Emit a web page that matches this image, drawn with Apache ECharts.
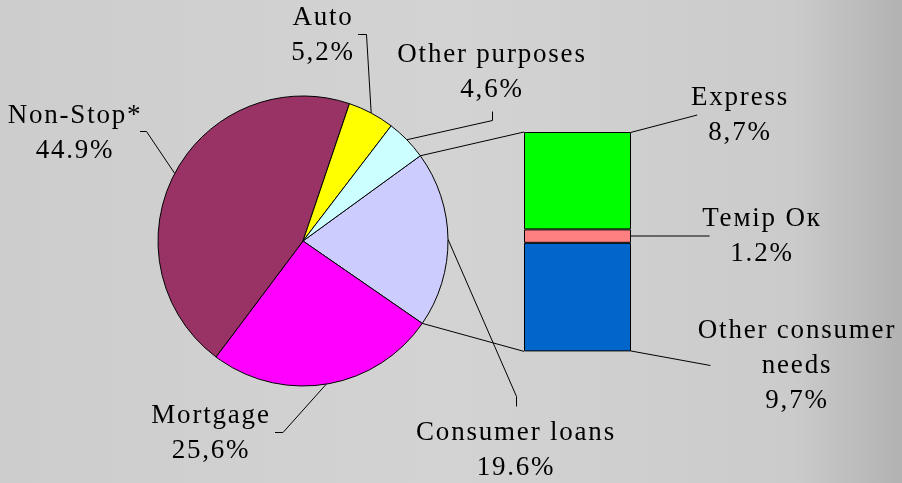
<!DOCTYPE html>
<html><head><meta charset="utf-8">
<script src="https://cdn.jsdelivr.net/npm/echarts@6/dist/echarts.min.js"></script>
<style>html,body{margin:0;padding:0;background:#cfcfcf;}#c{width:902px;height:483px;}</style>
</head><body><div id="c"></div>
<script>
// ---- data ----
const pieNames = ['Consumer loans', 'Mortgage', 'Non-Stop*', 'Auto', 'Other purposes'];
const pieValues = [19.6, 25.6, 44.9, 5.2, 4.6];
const pieDecimalSep = ['.', ',', '.', ',', ','];
const barNames = ['Other consumer\nneeds', 'Темір Ок', 'Express'];
const barValues = [9.7, 1.2, 8.7];
const barDecimalSep = [',', '.', ','];

// ---- layout / style ----
const pieColors = ['#CCCCFF', '#FF00FF', '#993366', '#FFFF00', '#CCFFFF'];
const barColors = ['#0066CC', '#FF8080', '#00FF00'];
const PIE_CENTER = [303, 241];
const PIE_R = 145;
const START_ANGLE = 36;
const FONT = "'Liberation Serif', 'Times New Roman', serif";
// label box: center x, top y, extra guide-line points
const pieLabelLayout = [
  { x: 516, y: 415, pts: [[516.5, 396.5], [516.5, 406.5]] },
  { x: 211, y: 398, pts: [[283, 432.5], [275, 432.5]] },
  { x: 75, y: 98, pts: [[146.5, 131.5], [140, 131.5]] },
  { x: 323, y: 0, pts: [[366.5, 34.5], [358, 34.5]] },
  { x: 492, y: 37, pts: [[492.5, 120.5], [492.5, 111.5]] }
];
const barLabelLayout = [
  { x: 797, y: 313, pts: [[685, 365], [693, 365]] },
  { x: 762, y: 201, pts: [[701, null]] },
  { x: 740, y: 80, pts: [[684, 115], [692, 113.5]] }
];

function fmt(v, sep) { return v.toFixed(1).replace('.', sep) + '%'; }

const chart = echarts.init(document.getElementById('c'), null, { renderer: 'canvas' });
const total = barValues.reduce((a, b) => a + b, 0);

const labelStyle = {
  fontFamily: FONT, fontSize: 27, lineHeight: 35, color: '#000', align: 'center'
};

const barSeries = barValues.map((v, i) => ({
  type: 'bar', stack: 'x', name: barNames[i], barWidth: '100%',
  data: [v],
  itemStyle: { color: barColors[i], borderColor: '#000', borderWidth: 1 },
  label: Object.assign({ show: true, position: 'right',
    formatter: () => barNames[i] + '\n' + fmt(v, barDecimalSep[i]) }, labelStyle),
  labelLine: { show: true, lineStyle: { color: '#000', width: 1 } },
  labelLayout: function (p) {
    const L = barLabelLayout[i];
    const r = p.rect;
    const s = [r.x + r.width, r.y + r.height / 2];
    const pts = [s].concat(L.pts.map(q => [q[0], q[1] == null ? s[1] : q[1]]));
    return { x: L.x, y: L.y, align: 'center', verticalAlign: 'top', labelLinePoints: pts };
  },
  silent: true, animation: false
}));

chart.setOption({
  backgroundColor: {
    type: 'linear', x: 0, y: 0, x2: 1, y2: 0,
    colorStops: [
      { offset: 0, color: '#cdcdcd' },
      { offset: 0.5, color: '#d3d3d3' },
      { offset: 0.88, color: '#cbcbcb' },
      { offset: 1, color: '#b2b2b2' }
    ]
  },
  animation: false,
  grid: { left: 524, top: 132, width: 107, height: 219.4 },
  xAxis: { type: 'category', data: [''], show: false },
  yAxis: { type: 'value', min: 0, max: total, show: false },
  series: [{
    type: 'pie',
    center: PIE_CENTER, radius: PIE_R,
    startAngle: START_ANGLE, clockwise: true,
    avoidLabelOverlap: false,
    data: pieNames.map((n, i) => ({ name: n, value: pieValues[i], itemStyle: { color: pieColors[i] } })),
    itemStyle: { borderColor: '#000', borderWidth: 1 },
    label: Object.assign({ show: true, position: 'outside',
      formatter: p => p.name + '\n' + fmt(pieValues[p.dataIndex], pieDecimalSep[p.dataIndex]) }, labelStyle),
    labelLine: { show: true, length: 10, length2: 10, smooth: false, lineStyle: { color: '#000', width: 1 } },
    labelLayout: function (p) {
      const L = pieLabelLayout[p.dataIndex];
      const s = p.labelLinePoints ? p.labelLinePoints[0] : null;
      const res = { x: L.x, y: L.y, align: 'center', verticalAlign: 'top' };
      if (s) res.labelLinePoints = [s].concat(L.pts);
      return res;
    },
    emphasis: { disabled: true },
    silent: true
  }].concat(barSeries)
});

// spaced lettering like the original (canvas exists after first render)
document.querySelectorAll('#c canvas').forEach(cv => {
  const ctx = cv.getContext('2d');
  if (ctx && 'letterSpacing' in ctx) ctx.letterSpacing = '1.8px';
});

// connector lines from pie (Consumer loans slice edges) to the bar's corners
function connectors() {
  const a0 = START_ANGLE * Math.PI / 180;
  const sum = pieValues.reduce((a, b) => a + b, 0);
  const a1 = (START_ANGLE - pieValues[0] / sum * 360) * Math.PI / 180;
  const p0 = [PIE_CENTER[0] + PIE_R * Math.cos(a0), PIE_CENTER[1] - PIE_R * Math.sin(a0)];
  const p1 = [PIE_CENTER[0] + PIE_R * Math.cos(a1), PIE_CENTER[1] - PIE_R * Math.sin(a1)];
  const top = chart.convertToPixel({ gridIndex: 0 }, [0, total]);
  const bot = chart.convertToPixel({ gridIndex: 0 }, [0, 0]);
  const left = chart.getModel().getComponent('grid', 0).coordinateSystem.getRect().x;
  chart.setOption({
    graphic: [
      { type: 'line', shape: { x1: p0[0], y1: p0[1], x2: left, y2: top[1] }, style: { stroke: '#000', lineWidth: 1 }, z: 1 },
      { type: 'line', shape: { x1: p1[0], y1: p1[1], x2: left, y2: bot[1] }, style: { stroke: '#000', lineWidth: 1 }, z: 1 }
    ]
  });
}
connectors();
</script>
</body></html>
